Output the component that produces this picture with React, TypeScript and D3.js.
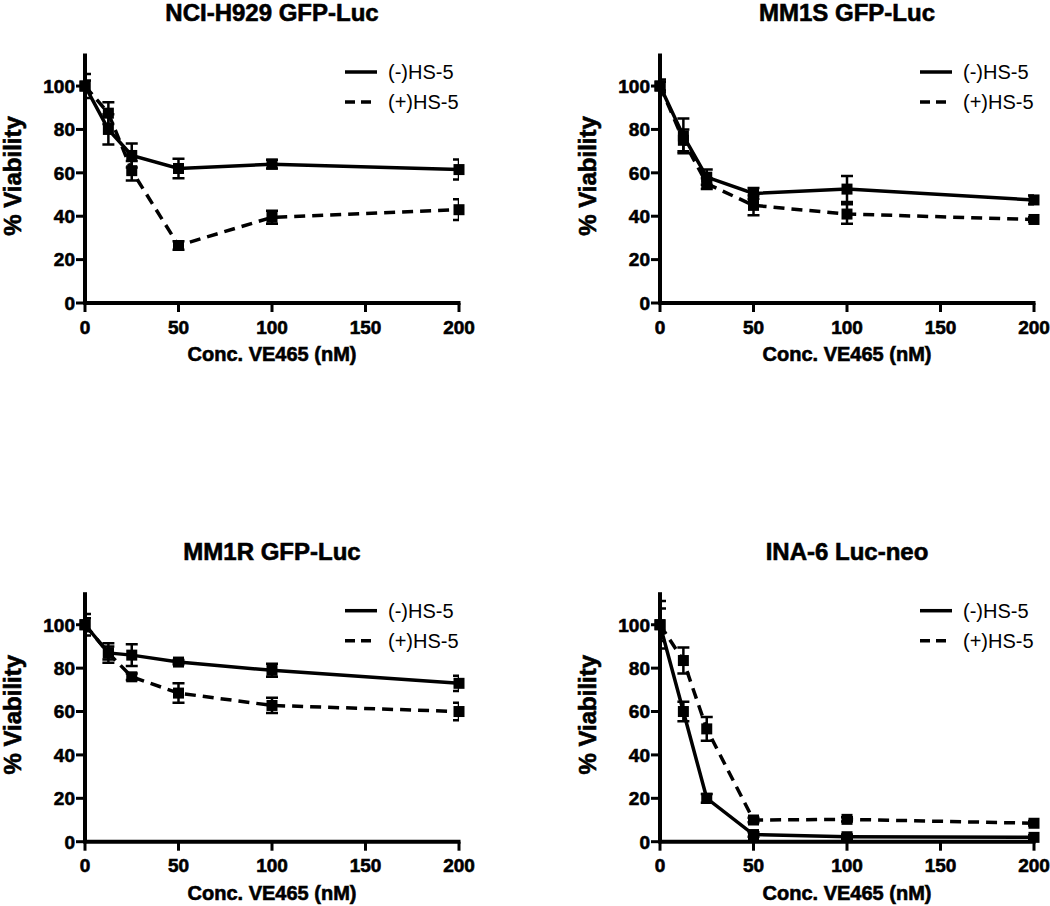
import React from "react";
import * as d3 from "d3";

const conc = [0, 12.5, 25, 50, 100, 200];
const xTicks = [0, 50, 100, 150, 200];
const yTicks = [0, 20, 40, 60, 80, 100];
const seriesNames = ["(-)HS-5", "(+)HS-5"];

const titles = ["NCI-H929 GFP-Luc", "MM1S GFP-Luc", "MM1R GFP-Luc", "INA-6 Luc-neo"];

const h929Minus = [100, 80, 68, 62, 64, 61.5];
const h929MinusErr = [5.5, 7, 5.5, 4.5, 2, 4.6];
const h929Plus = [100, 87.5, 61, 26.5, 39.5, 43];
const h929PlusErr = [2.5, 5, 4.5, 2, 3, 4.8];

const mm1sMinus = [100, 77, 58, 50.5, 52.5, 47.5];
const mm1sMinusErr = [3, 8, 3.5, 2.5, 6, 2];
const mm1sPlus = [100, 75, 55, 45, 41, 38.5];
const mm1sPlusErr = [2, 5, 2.5, 4.5, 4.5, 1];

const mm1rMinus = [100, 87, 86, 82.8, 79, 73];
const mm1rMinusErr = [5, 3, 5, 1, 3, 3.5];
const mm1rPlus = [100, 87, 76, 68.5, 62.8, 60];
const mm1rPlusErr = [3, 4.5, 1.5, 4.5, 3.5, 4];

const ina6Minus = [100, 60, 20, 3.3, 2.3, 2];
const ina6MinusErr = [7.5, 4.5, 2, 1, 1, 1];
const ina6Plus = [100, 83.5, 52, 10, 10.3, 8.5];
const ina6PlusErr = [11, 6, 5.5, 1, 1, 1];

const panelData = [
  { minus: h929Minus, minusErr: h929MinusErr, plus: h929Plus, plusErr: h929PlusErr },
  { minus: mm1sMinus, minusErr: mm1sMinusErr, plus: mm1sPlus, plusErr: mm1sPlusErr },
  { minus: mm1rMinus, minusErr: mm1rMinusErr, plus: mm1rPlus, plusErr: mm1rPlusErr },
  { minus: ina6Minus, minusErr: ina6MinusErr, plus: ina6Plus, plusErr: ina6PlusErr },
];

// layout
const origins = [
  { ox: 85, oy: 303 },
  { ox: 660, oy: 303 },
  { ox: 85, oy: 841.7 },
  { ox: 660, oy: 841.7 },
];
const PW = 374;
const PH = 249.5;
const FONT = "'Liberation Sans', Arial, Helvetica, sans-serif";
const boldText = { fontWeight: "bold" as const, stroke: "#000", strokeWidth: 0.6 };

function Series({ vals, errs, x, y, dashed, clipId }) {
  const line = d3
    .line<number>()
    .x((_, i) => x(conc[i]))
    .y((d) => y(d));
  return (
    <g>
      <path
        d={line(vals) || ""}
        fill="none"
        stroke="#000"
        strokeWidth={3.5}
        strokeDasharray={dashed ? "11,7" : undefined}
      />
      <g clipPath={`url(#${clipId})`}>
        {vals.map((v, i) => {
          const cx = x(conc[i]);
          const t = y(v + errs[i]);
          const b = y(v - errs[i]);
          return (
            <g key={i} stroke="#000" strokeWidth={2.5}>
              <line x1={cx} x2={cx} y1={t} y2={b} />
              <line x1={cx - 6} x2={cx + 6} y1={t} y2={t} />
              <line x1={cx - 6} x2={cx + 6} y1={b} y2={b} />
            </g>
          );
        })}
      </g>
      {vals.map((v, i) => (
        <rect key={i} x={x(conc[i]) - 5.5} y={y(v) - 5.5} width={11} height={11} fill="#000" />
      ))}
    </g>
  );
}

function Panel({ idx }) {
  const { ox, oy } = origins[idx];
  const d = panelData[idx];
  const x = d3.scaleLinear().domain([0, 200]).range([ox, ox + PW]);
  const y = d3.scaleLinear().domain([0, 115]).range([oy, oy - PH]);
  const clipId = `clip${idx}`;
  const cx = (ox + ox + PW) / 2;
  return (
    <g fontFamily={FONT}>
      <defs>
        <clipPath id={clipId}>
          <rect x={ox} y={oy - PH - 40} width={PW} height={PH + 60} />
        </clipPath>
      </defs>
      <text x={cx} y={oy - 282} textAnchor="middle" fontSize={24} {...boldText}>
        {titles[idx]}
      </text>
      {/* axes */}
      <line x1={ox} x2={ox} y1={y(115)} y2={oy + 1.5} stroke="#000" strokeWidth={4} />
      <line x1={ox - 1.5} x2={ox + PW + 1.5} y1={oy} y2={oy} stroke="#000" strokeWidth={4} />
      {yTicks.map((t) => (
        <g key={t}>
          <line x1={ox - 9} x2={ox} y1={y(t)} y2={y(t)} stroke="#000" strokeWidth={3} />
          <text x={ox - 10} y={y(t)} dy="0.36em" textAnchor="end" fontSize={19} {...boldText}>
            {t}
          </text>
        </g>
      ))}
      {xTicks.map((t) => (
        <g key={t}>
          <line x1={x(t)} x2={x(t)} y1={oy} y2={oy + 9} stroke="#000" strokeWidth={3} />
          <text x={x(t)} y={oy + 30.5} textAnchor="middle" fontSize={19} {...boldText}>
            {t}
          </text>
        </g>
      ))}
      <text x={cx} y={oy + 58} textAnchor="middle" fontSize={20} {...boldText}>
        Conc. VE465 (nM)
      </text>
      <text
        transform={`translate(${ox - 64},${oy - 127}) rotate(-90)`}
        textAnchor="middle"
        fontSize={24}
        {...boldText}
      >
        % Viability
      </text>
      <Series vals={d.minus} errs={d.minusErr} x={x} y={y} dashed={false} clipId={clipId} />
      <Series vals={d.plus} errs={d.plusErr} x={x} y={y} dashed={true} clipId={clipId} />
      {/* legend */}
      {seriesNames.map((n, i) => (
        <g key={n}>
          <line
            x1={ox + 260}
            x2={ox + 292}
            y1={oy - 231 + i * 30}
            y2={oy - 231 + i * 30}
            stroke="#000"
            strokeWidth={3.5}
            strokeDasharray={i === 1 ? "10,6" : undefined}
          />
          <text x={ox + 303} y={oy - 231 + i * 30} dy="0.36em" fontSize={20}>
            {n}
          </text>
        </g>
      ))}
    </g>
  );
}

export default function App() {
  return (
    <svg
      width={1050}
      height={906}
      style={{ position: "absolute", left: 0, top: 0, background: "#fff" }}
    >
      <rect width={1050} height={906} fill="#fff" />
      {[0, 1, 2, 3].map((i) => (
        <Panel key={i} idx={i} />
      ))}
    </svg>
  );
}
